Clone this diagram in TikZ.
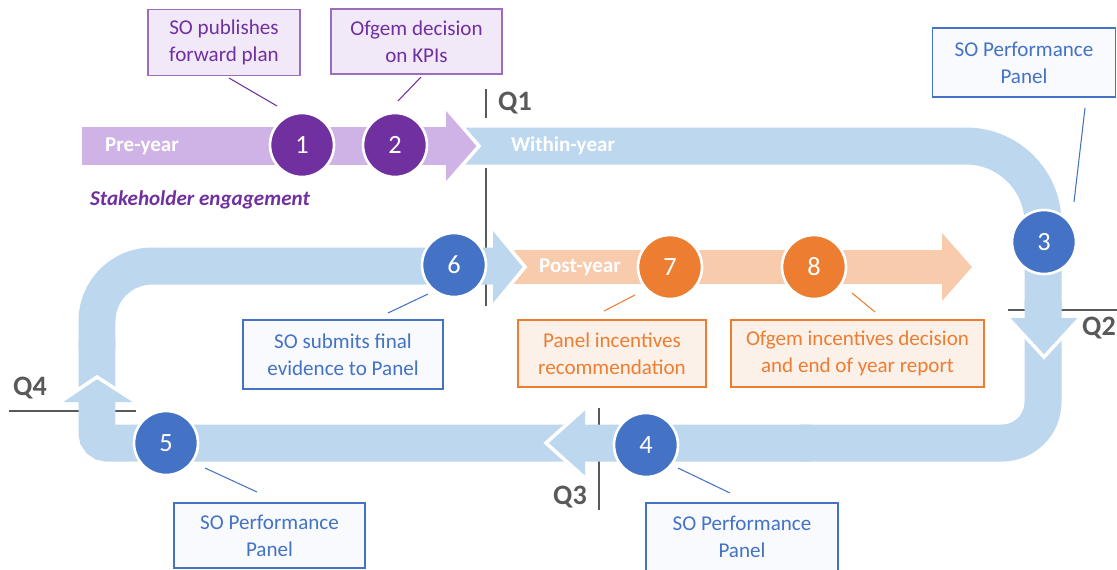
\documentclass[tikz,border=0pt]{standalone}
\usepackage{fontspec}
\setmainfont{Carlito}
\usepackage{tikz}
\usetikzlibrary{calc}
\usetikzlibrary{positioning}
\definecolor{plum}{RGB}{112, 48, 160}
\definecolor{lilac}{RGB}{207, 179, 230}
\definecolor{lilacpale}{RGB}{241, 232, 248}
\definecolor{sapphire}{RGB}{68, 114, 196}
\definecolor{skyblue}{RGB}{189, 215, 238}
\definecolor{skypale}{RGB}{248, 250, 253}
\definecolor{tangerine}{RGB}{237, 125, 49}
\definecolor{peach}{RGB}{248, 203, 173}
\definecolor{peachpale}{RGB}{252, 241, 233}
\definecolor{slate}{RGB}{89, 89, 89}

\begin{document}
\begin{tikzpicture}[x=0.02cm, y=-0.02cm,
    numdot/.style={circle, draw=white, line width=1.5pt, minimum size=1.28cm, inner sep=0pt,
                   text=white, font=\fontsize{15}{18}\selectfont},
    notebox/.style={draw, line width=0.8pt, align=center, inner sep=0pt,
                    font=\fontsize{12}{15.4}\selectfont},
    purplebox/.style={notebox, draw=plum!70, fill=lilacpale, text=plum},
    bluebox/.style={notebox, draw=sapphire, fill=skypale, text=sapphire},
    orangebox/.style={notebox, draw=tangerine, fill=peachpale, text=tangerine},
    leader/.style={line width=0.6pt},
    qline/.style={slate, line width=0.8pt},
    qlabel/.style={text=slate, font=\fontsize{16}{19}\selectfont\bfseries},
    bandtext/.style={text=white, font=\fontsize{12}{14}\selectfont\bfseries},
    tipline/.style={white, line width=2pt}]
            \useasboundingbox (0,0) rectangle (1117,569);
            % Quarter marks
            \draw[qline] ( 486, 89) -- ( 486,118);
            \draw[qline] ( 486,168) -- ( 486,306);
            \draw[qline] (1008,310) -- (1117,310);
            \draw[qline] ( 599,408) -- ( 599,510);
            \draw[qline] (   9,411) -- ( 136,411);
            % Within-year loop
            \draw[skyblue, line width=0.74cm, rounded corners=1.54cm] ( 455,146) -- (1043,146) -- (1043,310);
            \draw[skyblue, line width=0.74cm, rounded corners=0.82cm] (1043,300) -- (1043,443) -- ( 800,443);
            \draw[skyblue, line width=0.74cm, rounded corners=0.20cm] ( 810,443) -- (  97,443) -- (  97,340);
            \draw[skyblue, line width=0.74cm, rounded corners=1.10cm] (  97,350) -- (  97,266) -- ( 505,266);
            % Post-year arrow
            \fill[peach] (505,250) rectangle (942,284);
            \fill[peach] (942,233) -- (972,267) -- (942,301) -- cycle;
            % Loop arrow heads
            \fill[skyblue] ( 493,228) -- ( 525,267) -- ( 493,306) -- cycle;
            \draw[tipline] ( 493,228) -- ( 525,267) -- ( 493,306);
            \fill[skyblue] (1008,318) -- (1044,357) -- (1080,318) -- cycle;
            \draw[tipline] (1008,318) -- (1044,357) -- (1080,318);
            \fill[skyblue] ( 585,408) -- ( 546,443) -- ( 585,478) -- cycle;
            \draw[tipline] ( 585,408) -- ( 546,443) -- ( 585,478);
            \fill[skyblue] (  60,402) -- (  97,377) -- ( 136,402) -- cycle;
            \draw[tipline] (  60,402) -- (  97,377) -- ( 136,402);
            % Pre-year arrow
            \fill[lilac] ( 82,127) rectangle (446,165);
            \fill[lilac] (446,108) -- (479,146) -- (446,184) -- cycle;
            \draw[tipline] (446,108) -- (479,146) -- (446,184);
            % Band labels
            \node[bandtext] (preyear)    at (142,146) {Pre-year};
            \node[bandtext] (withinyear) at (563,146) {Within-year};
            \node[bandtext] (postyear)   at (580,267) {Post-year};
            \node[text=plum, font=\fontsize{12}{14}\selectfont\bfseries\itshape] (stake) at (200,200) {Stakeholder engagement};
            % Numbered steps
            \node[numdot, fill=plum]      (c1) at ( 302,145) {1};
            \node[numdot, fill=plum]      (c2) at ( 395,145) {2};
            \node[numdot, fill=sapphire]  (c3) at (1044,242) {3};
            \node[numdot, fill=sapphire]  (c4) at ( 646,445) {4};
            \node[numdot, fill=sapphire]  (c5) at ( 166,443) {5};
            \node[numdot, fill=sapphire]  (c6) at ( 454,265) {6};
            \node[numdot, fill=tangerine] (c7) at ( 670,267) {7};
            \node[numdot, fill=tangerine] (c8) at ( 814,267) {8};
            % Call-out boxes
            \node[purplebox, minimum width=3.04cm, minimum height=1.32cm] (b1) at ( 224, 42.5) {SO publishes\\forward plan};
            \node[purplebox, minimum width=3.42cm, minimum height=1.30cm] (b2) at ( 416.5, 41.5) {Ofgem decision\\on KPIs};
            \node[bluebox,   minimum width=3.66cm, minimum height=1.38cm] (b3) at (1024, 62.5) {SO Performance\\Panel};
            \node[bluebox,   minimum width=3.84cm, minimum height=1.36cm] (b4) at ( 742,537) {SO Performance\\Panel};
            \node[bluebox,   minimum width=3.82cm, minimum height=1.30cm] (b5) at ( 269.5,535.5) {SO Performance\\Panel};
            \node[bluebox,   minimum width=4.00cm, minimum height=1.38cm] (b6) at ( 343,354.5) {SO submits final\\evidence to Panel};
            \node[orangebox, minimum width=3.76cm, minimum height=1.34cm] (b7) at ( 612,353.5) {Panel incentives\\recommendation};
            \node[orangebox, minimum width=5.06cm, minimum height=1.34cm] (b8) at ( 857.5,353.5) {Ofgem incentives decision\\and end of year report};
            % Leader ends
            \coordinate (l1a) at ( 229, 78); \coordinate (l1b) at ( 277,106);
            \coordinate (l2a) at ( 421, 77); \coordinate (l2b) at ( 398,101);
            \coordinate (l3a) at (1085,108); \coordinate (l3b) at (1074,202);
            \coordinate (l4a) at ( 730,493); \coordinate (l4b) at ( 678,468);
            \coordinate (l5a) at ( 257,492); \coordinate (l5b) at ( 205,468);
            \coordinate (l6a) at ( 388,313); \coordinate (l6b) at ( 428,294);
            \coordinate (l7a) at ( 604,311); \coordinate (l7b) at ( 635,295);
            \coordinate (l8a) at ( 875,312); \coordinate (l8b) at ( 852,293);
            \draw[leader, plum]      (l1a) -- (l1b);
            \draw[leader, plum]      (l2a) -- (l2b);
            \draw[leader, sapphire]  (l3a) -- (l3b);
            \draw[leader, sapphire]  (l4a) -- (l4b);
            \draw[leader, sapphire]  (l5a) -- (l5b);
            \draw[leader, sapphire]  (l6a) -- (l6b);
            \draw[leader, tangerine] (l7a) -- (l7b);
            \draw[leader, tangerine] (l8a) -- (l8b);
            % Quarter labels
            \node[qlabel] (q1) at ( 515,103) {Q1};
            \node[qlabel] (q2) at (1099,328) {Q2};
            \node[qlabel] (q3) at ( 570,497) {Q3};
            \node[qlabel] (q4) at (  30,388) {Q4};
        \end{tikzpicture}
\end{document}
